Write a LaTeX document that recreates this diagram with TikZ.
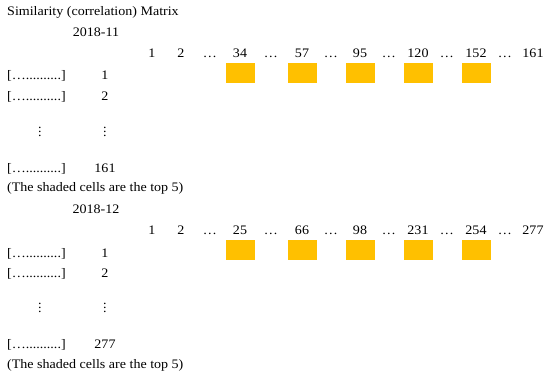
\documentclass[tikz,border=0pt]{standalone}
\usepackage{fontspec}
\setmainfont{Liberation Serif}[FakeStretch=1.08]
\usepackage{tikz}
\definecolor{cellgold}{RGB}{255,192,0}

\begin{document}
\begin{tikzpicture}[x=1pt, y=-1pt, every node/.style={font=\fontsize{13}{15}\selectfont, inner sep=0pt, anchor=base},
    cell/.style={fill=cellgold, anchor=center, minimum width=29pt, minimum height=20pt}]
    \useasboundingbox (0,0) rectangle (550,378);
    \node[anchor=base west] (title) at (7,15) {Similarity (correlation) Matrix};
    % first matrix
    \begin{scope}
      \node (date) at (96,36) {2018-11};
      \foreach \x/\t [count=\i] in {152/1, 181/2, 210/\dots, 240/34, 271/\dots, 302/57, 331/\dots, 360/95,
          389/\dots, 418/120, 447/\dots, 476/152, 505/\dots, 533/161}
        \node (col\i) at (\x,57) {\t};
      \node[anchor=base west] (rowa) at (7,79) {[…..........]};
      \node (numa) at (105,79) {1};
      \node[anchor=base west] (rowb) at (7,100) {[…..........]};
      \node (numb) at (105,100) {2};
      \node (vdotsa) at (40,136) {$\vdots$};
      \node (vdotsb) at (105,136) {$\vdots$};
      \node[anchor=base west] (rowc) at (7,172) {[…..........]};
      \node (numc) at (105,172) {161};
      \node[anchor=base west] (note) at (7,191) {(The shaded cells are the top 5)};
      \foreach \x in {240, 302, 360, 418, 476}
        \node[cell] at (\x,73) {};
    \end{scope}
    % second matrix
    \begin{scope}[yshift=-177pt]
      \node (date) at (96,36) {2018-12};
      \foreach \x/\t [count=\i] in {152/1, 181/2, 210/\dots, 240/25, 271/\dots, 302/66, 331/\dots, 360/98,
          389/\dots, 418/231, 447/\dots, 476/254, 505/\dots, 533/277}
        \node (col\i) at (\x,57) {\t};
      \node[anchor=base west] (rowa) at (7,80) {[…..........]};
      \node (numa) at (105,80) {1};
      \node[anchor=base west] (rowb) at (7,100) {[…..........]};
      \node (numb) at (105,100) {2};
      \node (vdotsa) at (40,135) {$\vdots$};
      \node (vdotsb) at (105,135) {$\vdots$};
      \node[anchor=base west] (rowc) at (7,171) {[…..........]};
      \node (numc) at (105,171) {277};
      \node[anchor=base west] (note) at (7,191) {(The shaded cells are the top 5)};
      \foreach \x in {240, 302, 360, 418, 476}
        \node[cell] at (\x,73) {};
    \end{scope}
\end{tikzpicture}
\end{document}
